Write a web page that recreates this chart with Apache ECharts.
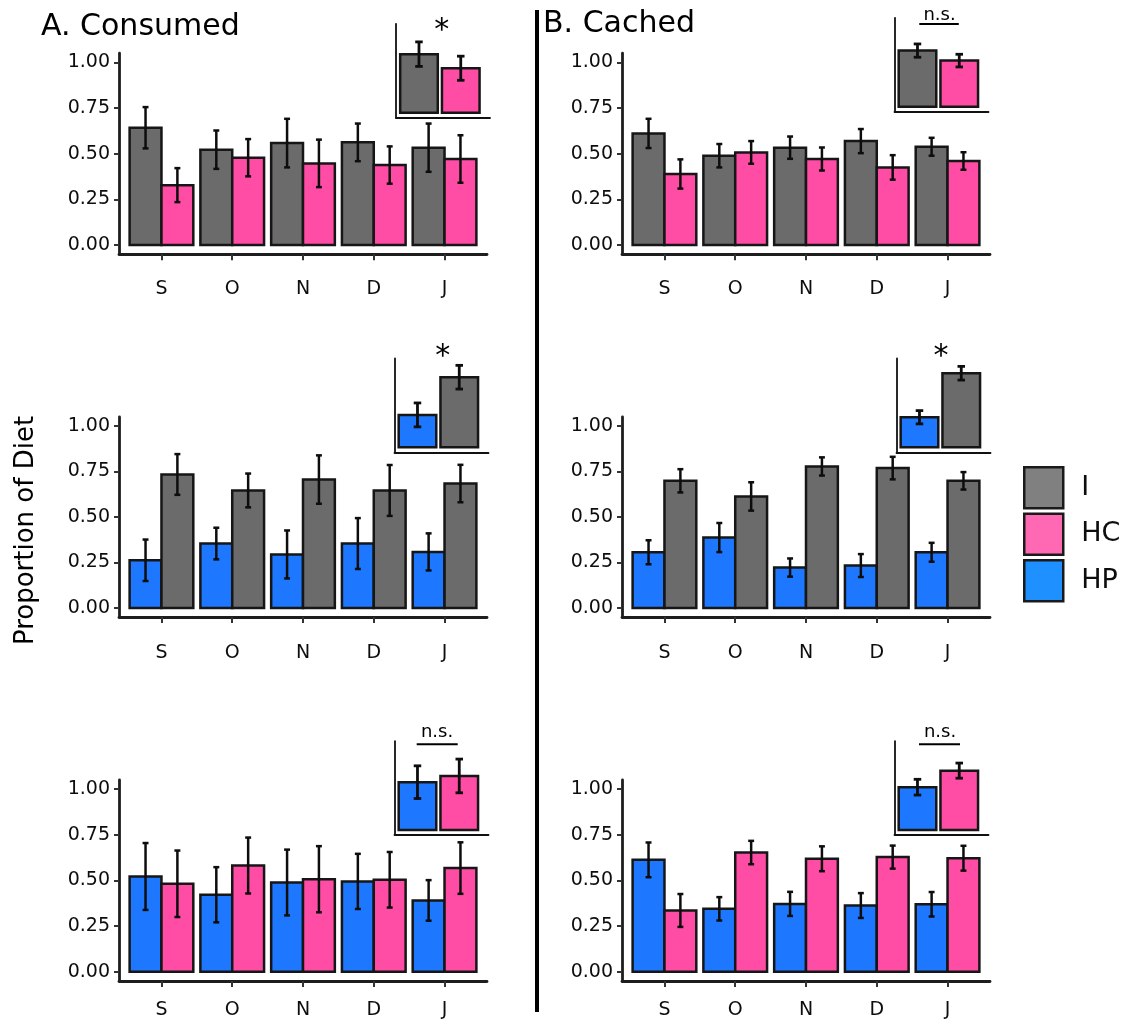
<!DOCTYPE html>
<html>
<head>
<meta charset="utf-8">
<title>Proportion of Diet – Consumed vs Cached</title>
<script src="https://cdn.jsdelivr.net/npm/echarts@6/dist/echarts.min.js"></script>
<style>
  html, body { margin: 0; padding: 0; background: #ffffff; }
  #chart { width: 1128px; height: 1022px; }
</style>
</head>
<body>
<div id="chart"></div>
<script>
// ---- data -------------------------------------------------------------
const months = ['S', 'O', 'N', 'D', 'J'];
const yTicks = [0, 0.25, 0.5, 0.75, 1];

// A. Consumed — monthly proportions (mean) and standard errors
const conIvHC_I      = [0.642, 0.522, 0.558, 0.562, 0.533];
const conIvHC_I_se   = [0.113, 0.105, 0.133, 0.103, 0.132];
const conIvHC_HC     = [0.328, 0.478, 0.447, 0.438, 0.471];
const conIvHC_HC_se  = [0.093, 0.102, 0.130, 0.102, 0.130];

const conHPvI_HP     = [0.262, 0.354, 0.294, 0.354, 0.308];
const conHPvI_HP_se  = [0.114, 0.087, 0.132, 0.140, 0.102];
const conHPvI_I      = [0.734, 0.646, 0.706, 0.646, 0.684];
const conHPvI_I_se   = [0.112, 0.093, 0.133, 0.140, 0.103];

const conHPvHC_HP    = [0.522, 0.422, 0.489, 0.495, 0.391];
const conHPvHC_HP_se = [0.183, 0.151, 0.180, 0.151, 0.111];
const conHPvHC_HC    = [0.482, 0.582, 0.507, 0.504, 0.568];
const conHPvHC_HC_se = [0.182, 0.153, 0.181, 0.152, 0.141];

// B. Cached — monthly proportions (mean) and standard errors
const cacIvHC_I      = [0.611, 0.489, 0.533, 0.569, 0.538];
const cacIvHC_I_se   = [0.080, 0.064, 0.061, 0.066, 0.049];
const cacIvHC_HC     = [0.389, 0.507, 0.471, 0.425, 0.460];
const cacIvHC_HC_se  = [0.080, 0.062, 0.063, 0.067, 0.048];

const cacHPvI_HP     = [0.306, 0.387, 0.222, 0.233, 0.306];
const cacHPvI_HP_se  = [0.066, 0.080, 0.050, 0.063, 0.052];
const cacHPvI_I      = [0.699, 0.613, 0.778, 0.769, 0.699];
const cacHPvI_I_se   = [0.064, 0.078, 0.050, 0.062, 0.048];

const cacHPvHC_HP    = [0.613, 0.345, 0.372, 0.363, 0.370];
const cacHPvHC_HP_se = [0.095, 0.064, 0.066, 0.068, 0.067];
const cacHPvHC_HC    = [0.336, 0.653, 0.619, 0.628, 0.622];
const cacHPvHC_HC_se = [0.090, 0.064, 0.068, 0.063, 0.068];

// Pooled means over all months (small inset panels), [first, second]
const conIvHC_all    = [0.573, 0.435], conIvHC_all_se   = [0.120, 0.118];
const conHPvI_all    = [0.317, 0.686], conHPvI_all_se   = [0.117, 0.116];
const conHPvHC_all   = [0.468, 0.529], conHPvHC_all_se  = [0.160, 0.165];
const cacIvHC_all    = [0.549, 0.451], cacIvHC_all_se   = [0.065, 0.062];
const cacHPvI_all    = [0.294, 0.725], cacHPvI_all_se   = [0.065, 0.067];
const cacHPvHC_all   = [0.419, 0.581], cacHPvHC_all_se  = [0.077, 0.074];

// ---- styling ----------------------------------------------------------
const FONT = 'DejaVu Sans';
const COLORS = { I: '#6b6b6b', HC: '#ff4da6', HP: '#1e78ff' };
const LEGEND_COLORS = { I: '#808080', HC: '#ff69b4', HP: '#1e90ff' };

// panel layout (rows: I/HC, HP/I, HP/HC ; cols: consumed, cached)
const colX = [119, 622];
const mainW = 368;
const rowTop = [53.2, 417, 780];
const rowH = [201, 200, 201];
const xLabelMargin = [25, 26.5, 19.5];
const insetLeft = [[396, 894.5], [394.5, 896.5], [394.5, 894.5]];
const insetTop = [[23.8, 17.8], [358.4, 358.4], [741.1, 741.1]];
const insetW = 94, insetH = 94;

const panels = [
  { row: 0, col: 0, groups: [['I', conIvHC_I, conIvHC_I_se], ['HC', conIvHC_HC, conIvHC_HC_se]], all: conIvHC_all, allSe: conIvHC_all_se },
  { row: 1, col: 0, groups: [['HP', conHPvI_HP, conHPvI_HP_se], ['I', conHPvI_I, conHPvI_I_se]], all: conHPvI_all, allSe: conHPvI_all_se },
  { row: 2, col: 0, groups: [['HP', conHPvHC_HP, conHPvHC_HP_se], ['HC', conHPvHC_HC, conHPvHC_HC_se]], all: conHPvHC_all, allSe: conHPvHC_all_se },
  { row: 0, col: 1, groups: [['I', cacIvHC_I, cacIvHC_I_se], ['HC', cacIvHC_HC, cacIvHC_HC_se]], all: cacIvHC_all, allSe: cacIvHC_all_se },
  { row: 1, col: 1, groups: [['HP', cacHPvI_HP, cacHPvI_HP_se], ['I', cacHPvI_I, cacHPvI_I_se]], all: cacHPvI_all, allSe: cacHPvI_all_se },
  { row: 2, col: 1, groups: [['HP', cacHPvHC_HP, cacHPvHC_HP_se], ['HC', cacHPvHC_HC, cacHPvHC_HC_se]], all: cacHPvHC_all, allSe: cacHPvHC_all_se }
];

// bar with outlined fill and an error bar (mean ± se)
function barShape(api, l, r, v, se, capHalf, errWidth) {
  const c = (l + r) / 2;
  const tl = api.coord([l, v]);
  const br = api.coord([r, 0]);
  const hi = api.coord([c, v + se]);
  const lo = api.coord([c, v - se]);
  const cl = api.coord([c - capHalf, v])[0];
  const cr = api.coord([c + capHalf, v])[0];
  const errStyle = { stroke: '#0d0d0d', lineWidth: errWidth };
  return {
    type: 'group',
    children: [
      { type: 'rect', shape: { x: tl[0], y: tl[1], width: br[0] - tl[0], height: br[1] - tl[1] },
        style: { fill: api.visual('color'), stroke: '#161616', lineWidth: 2.5 } },
      { type: 'line', shape: { x1: hi[0], y1: hi[1], x2: lo[0], y2: lo[1] }, style: errStyle },
      { type: 'line', shape: { x1: cl, y1: hi[1], x2: cr, y2: hi[1] }, style: errStyle },
      { type: 'line', shape: { x1: cl, y1: lo[1], x2: cr, y2: lo[1] }, style: errStyle }
    ]
  };
}

function mainBar(slot) {
  return function (params, api) {
    const x = api.value(0);
    const l = x - 0.45 + slot * 0.45;
    return barShape(api, l, l + 0.45, api.value(1), api.value(2), 0.042, 2.5);
  };
}

function insetBar(params, api) {
  const x = api.value(0);
  return barShape(api, x - 0.45, x + 0.45, api.value(1), api.value(2), 0.09, 2.8);
}

const grids = [], xAxes = [], yAxes = [], series = [];

panels.forEach(function (p, i) {
  const mainIdx = 2 * i, insetIdx = 2 * i + 1;

  grids.push({ left: colX[p.col], top: rowTop[p.row], width: mainW, height: rowH[p.row], outerBoundsMode: 'none' });
  grids.push({ left: insetLeft[p.row][p.col], top: insetTop[p.row][p.col], width: insetW, height: insetH, outerBoundsMode: 'none' });

  xAxes.push({
    type: 'value', gridIndex: mainIdx, min: 0.4, max: 5.6,
    axisLine: { show: true, onZero: false, lineStyle: { color: '#1e1e1e', width: 2.8 } },
    axisTick: { show: true, customValues: [1, 2, 3, 4, 5], length: 6, lineStyle: { color: '#333', width: 2 } },
    axisLabel: { customValues: [1, 2, 3, 4, 5], formatter: function (v) { return months[Math.round(v) - 1]; },
      margin: xLabelMargin[p.row], fontSize: 19, fontFamily: FONT, color: '#0d0d0d' },
    splitLine: { show: false }
  });
  yAxes.push({
    type: 'value', gridIndex: mainIdx, min: -0.05, max: 1.05,
    axisLine: { show: true, onZero: false, lineStyle: { color: '#1e1e1e', width: 2.8 } },
    axisTick: { show: true, customValues: yTicks, length: 5, lineStyle: { color: '#333', width: 2 } },
    axisLabel: { customValues: yTicks, formatter: function (v) { return v.toFixed(2); },
      margin: 9, fontSize: 19, fontFamily: FONT, color: '#0d0d0d' },
    splitLine: { show: false }
  });

  xAxes.push({
    type: 'value', gridIndex: insetIdx, min: 0.45, max: 2.7,
    axisLine: { show: true, onZero: false, lineStyle: { color: '#111', width: 1.8 } },
    axisTick: { show: false }, axisLabel: { show: false }, splitLine: { show: false }
  });
  yAxes.push({
    type: 'value', gridIndex: insetIdx, min: -0.05, max: 0.87,
    axisLine: { show: true, onZero: false, lineStyle: { color: '#111', width: 1.8 } },
    axisTick: { show: false }, axisLabel: { show: false }, splitLine: { show: false }
  });

  p.groups.forEach(function (g, slot) {
    const name = g[0], vals = g[1], ses = g[2];
    series.push({
      type: 'custom', name: name, xAxisIndex: mainIdx, yAxisIndex: mainIdx,
      itemStyle: { color: COLORS[name] },
      encode: { x: 0, y: 1 },
      renderItem: mainBar(slot),
      data: vals.map(function (v, k) { return [k + 1, v, ses[k]]; }),
      silent: true
    });
    series.push({
      type: 'custom', name: name, xAxisIndex: insetIdx, yAxisIndex: insetIdx,
      itemStyle: { color: COLORS[name] },
      encode: { x: 0, y: 1 },
      renderItem: insetBar,
      data: [[slot + 1, p.all[slot], p.allSe[slot]]],
      silent: true
    });
  });
});

// titles, shared axis name, divider and significance marks
function txt(x, y, text, size, extra) {
  return Object.assign({
    type: 'text', x: x, y: y, silent: true,
    style: { text: text, fontSize: size, fontFamily: FONT, fill: '#000',
      align: 'center', verticalAlign: 'middle', textAlign: 'center', textVerticalAlign: 'middle' }
  }, extra || {});
}
function leftTxt(x, y, text, size) {
  return {
    type: 'text', x: x, y: y, silent: true,
    style: { text: text, fontSize: size, fontFamily: FONT, fill: '#000',
      align: 'left', verticalAlign: 'middle', textAlign: 'left', textVerticalAlign: 'middle' }
  };
}
function underline(x1, x2, y) {
  return { type: 'line', silent: true, shape: { x1: x1, y1: y, x2: x2, y2: y }, style: { stroke: '#000', lineWidth: 2 } };
}

const graphics = [
  { type: 'rect', silent: true, shape: { x: 535, y: 10, width: 4, height: 1002 }, style: { fill: '#000' } },
  leftTxt(41, 27, 'A. Consumed', 30),
  leftTxt(543, 24, 'B. Cached', 30),
  txt(26, 530.5, 'Proportion of Diet', 26, { rotation: Math.PI / 2 }),
  txt(441.7, 31, '*', 30),
  txt(442.7, 357, '*', 30),
  txt(941, 357, '*', 30),
  txt(939.5, 15.5, 'n.s.', 18), underline(919.3, 958.8, 24),
  txt(437, 732.5, 'n.s.', 18), underline(416.7, 457.7, 744.3),
  txt(940, 732.5, 'n.s.', 18), underline(919, 960, 744.3)
];

const chart = echarts.init(document.getElementById('chart'), null, { renderer: 'canvas' });
chart.setOption({
  animation: false,
  backgroundColor: '#ffffff',
  grid: grids,
  xAxis: xAxes,
  yAxis: yAxes,
  legend: {
    orient: 'vertical', left: 1018, top: 461,
    itemWidth: 39, itemHeight: 41, itemGap: 3, icon: 'rect',
    selectedMode: false,
    itemStyle: { borderColor: '#1a1a1a', borderWidth: 2.5 },
    textStyle: { fontSize: 27, fontFamily: FONT, color: '#0d0d0d', padding: [0, 0, 0, 13] },
    data: [
      { name: 'I', itemStyle: { color: LEGEND_COLORS.I } },
      { name: 'HC', itemStyle: { color: LEGEND_COLORS.HC } },
      { name: 'HP', itemStyle: { color: LEGEND_COLORS.HP } }
    ]
  },
  graphic: graphics,
  series: series
});
</script>
</body>
</html>
